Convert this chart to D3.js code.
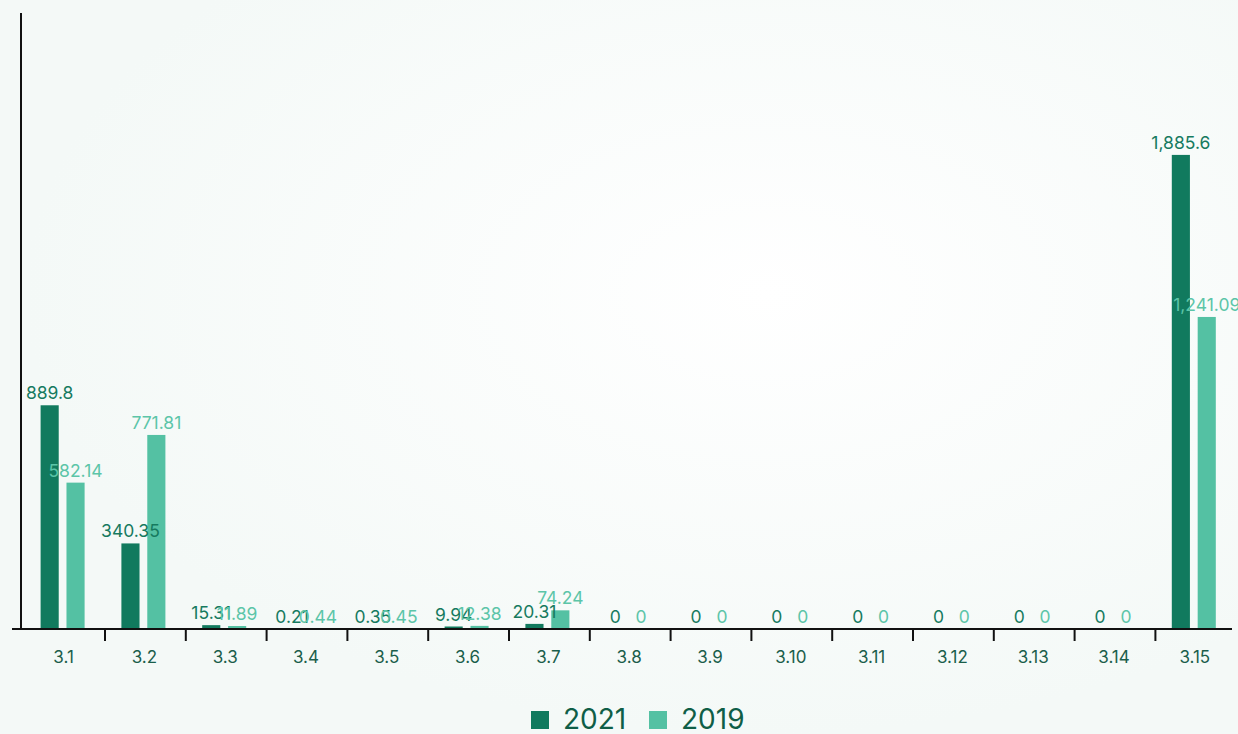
<!DOCTYPE html>
<html>
<head>
<meta charset="utf-8">
<script src="https://cdn.jsdelivr.net/npm/d3@7"></script>
<style>
  html, body { margin: 0; padding: 0; background: #f6faf9; }
  svg { display: block; font-family: "Inter", "Noto Sans", sans-serif; }
</style>
</head>
<body>
<div id="chart"></div>
<script>
const categories = ["3.1", "3.2", "3.3", "3.4", "3.5", "3.6", "3.7", "3.8", "3.9", "3.10", "3.11", "3.12", "3.13", "3.14", "3.15"];
const values2021 = [889.8, 340.35, 15.31, 0.21, 0.35, 9.94, 20.31, 0, 0, 0, 0, 0, 0, 0, 1885.6];
const values2019 = [582.14, 771.81, 11.89, 0.44, 0.45, 12.38, 74.24, 0, 0, 0, 0, 0, 0, 0, 1241.09];
const seriesNames = ["2021", "2019"];
const yMax = 2450;

const width = 1238, height = 734;
const colors = { "2021": "#117a5e", "2019": "#54c1a3" };
const labelColors = { "2021": "#167a5f", "2019": "#5cc5a8" };

const svg = d3.select("#chart").append("svg")
  .attr("width", width)
  .attr("height", height);

// soft background glow
const defs = svg.append("defs");
const grad = defs.append("radialGradient")
  .attr("id", "bg")
  .attr("cx", "62%").attr("cy", "40%").attr("r", "60%");
grad.append("stop").attr("offset", "0%").attr("stop-color", "#ffffff");
grad.append("stop").attr("offset", "100%").attr("stop-color", "#f4f9f7");
svg.append("rect").attr("width", width).attr("height", height).attr("fill", "url(#bg)");

const x = d3.scaleBand()
  .domain(categories)
  .range([24.2, 1236.2])
  .paddingInner(0)
  .paddingOuter(0);

// the pair of bars sits a little left of the band centre
const xs = d3.scaleBand()
  .domain(seriesNames)
  .range([x.bandwidth() / 2 - 24, x.bandwidth() / 2 + 20])
  .paddingInner(0.3)
  .paddingOuter(0);

const y = d3.scaleLinear()
  .domain([0, yMax])
  .range([629, 13]);

const rows = categories.map((c, i) => ({ cat: c, "2021": values2021[i], "2019": values2019[i] }));

// bars
const groups = svg.append("g").selectAll("g")
  .data(rows)
  .join("g")
  .attr("transform", d => `translate(${x(d.cat)},0)`);

groups.selectAll("rect")
  .data(d => seriesNames.map(s => ({ s, v: d[s] })))
  .join("rect")
  .attr("x", d => xs(d.s))
  .attr("width", xs.bandwidth())
  .attr("y", d => y(d.v))
  .attr("height", d => y(0) - y(d.v))
  .attr("fill", d => colors[d.s]);

// value labels
const fmt = d3.format(",");
seriesNames.forEach(s => {
  svg.append("g").selectAll("text")
    .data(rows)
    .join("text")
    .attr("x", d => x(d.cat) + xs(s) + xs.bandwidth() / 2)
    .attr("y", d => y(d[s]) - 6)
    .attr("text-anchor", "middle")
    .attr("font-size", 17.5)
    .attr("fill", labelColors[s])
    .text(d => fmt(d[s]));
});

// x axis
const xAxis = svg.append("g").attr("transform", `translate(0,${y(0)})`);
xAxis.append("line")
  .attr("x1", 12).attr("x2", 1232)
  .attr("stroke", "#111").attr("stroke-width", 2);
xAxis.selectAll(".tick")
  .data(categories.slice(1))
  .join("line")
  .attr("x1", d => x(d)).attr("x2", d => x(d))
  .attr("y1", 0).attr("y2", 12)
  .attr("stroke", "#111").attr("stroke-width", 2);
xAxis.selectAll("text")
  .data(categories)
  .join("text")
  .attr("x", d => x(d) + x.bandwidth() / 2 - 1)
  .attr("y", 34)
  .attr("text-anchor", "middle")
  .attr("font-size", 17)
  .attr("fill", "#1b5e4b")
  .text(d => d);

// y axis line
svg.append("line")
  .attr("x1", 21).attr("x2", 21)
  .attr("y1", y(yMax)).attr("y2", y(0))
  .attr("stroke", "#111").attr("stroke-width", 2);

// legend
const legend = svg.append("g").attr("transform", "translate(531,711)");
const items = legend.selectAll("g")
  .data(seriesNames)
  .join("g")
  .attr("transform", (d, i) => `translate(${i * 118},0)`);
items.append("rect")
  .attr("width", 18).attr("height", 18)
  .attr("fill", d => colors[d]);
items.append("text")
  .attr("x", 32).attr("y", 18)
  .attr("font-size", 28)
  .attr("fill", "#0f5e47")
  .text(d => d);
</script>
</body>
</html>
